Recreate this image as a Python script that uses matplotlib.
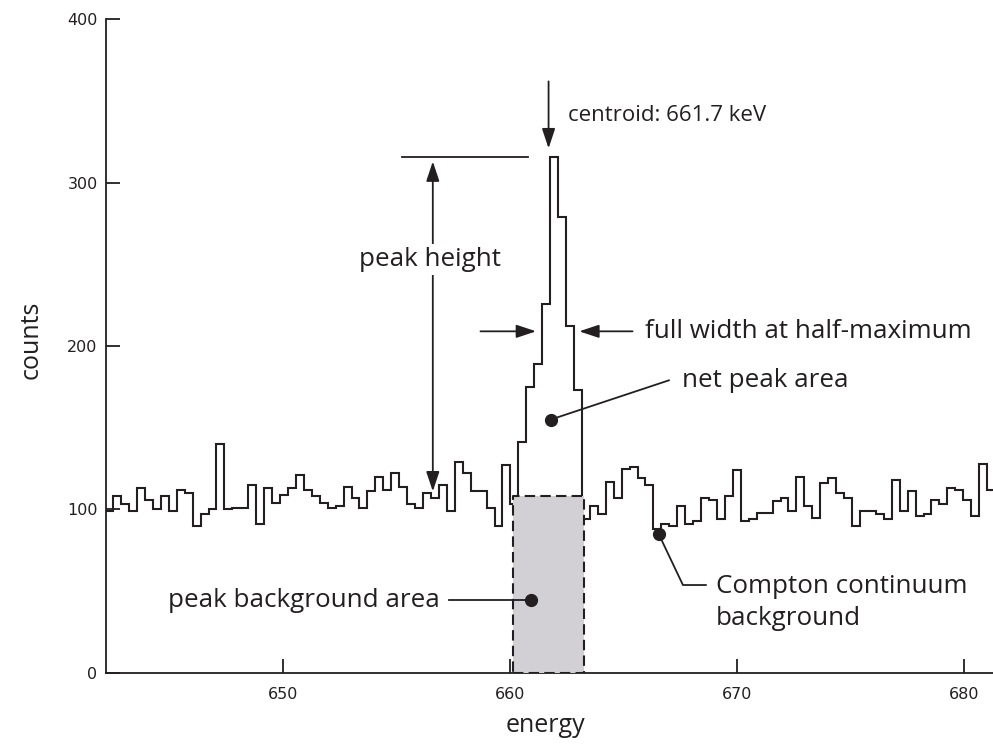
import numpy as np
import matplotlib.pyplot as plt
from matplotlib.patches import Rectangle

# gamma spectrum around the Cs-137 line, 0.35 keV channels
bin_start = 642.17
bin_width = 0.35
counts = [99, 108, 103, 99, 113, 106, 100, 108, 99, 112,
          110, 90, 97, 100, 140, 100, 101, 101, 115, 91,
          113, 104, 109, 113, 121, 112, 108, 104, 101, 102,
          114, 107, 101, 111, 120, 112, 122, 114, 103, 101,
          110, 107, 115, 99, 129, 122, 111, 111, 101, 90,
          127, 103, 141, 175, 189, 226, 316, 279, 212, 173,
          94, 102, 97, 117, 107, 125, 126, 119, 115, 88,
          91, 90, 102, 91, 93, 107, 106, 94, 108, 124,
          93, 94, 98, 98, 105, 107, 99, 120, 102, 95,
          116, 119, 110, 107, 90, 99, 99, 97, 94, 118,
          99, 111, 96, 97, 106, 103, 113, 112, 106, 96,
          128, 112]
edges = bin_start + bin_width * np.arange(len(counts) + 1)

peak_max = 316
centroid = 661.7
bg_left, bg_right, bg_level = 660.12, 663.28, 108
fwhm_y = 209

ink = '#231f20'
label_font = 'Open Sans'

fig, ax = plt.subplots(figsize=(9.93, 7.46), dpi=100)
ax.set_position([0.1067, 0.0982, 0.8933, 0.8759])

ax.stairs(counts, edges, baseline=None, color=ink, linewidth=1.5, zorder=2)

# shaded peak background
ax.add_patch(Rectangle((bg_left, 0), bg_right - bg_left, bg_level,
                       facecolor='#d2d0d4', edgecolor=ink, linewidth=1.5,
                       linestyle=(0, (5, 2.5)), joinstyle='round', zorder=3))

ax.set_xlim(642.2, 681.28)
ax.set_ylim(0, 400)
ax.set_xticks([650, 660, 670, 680])
ax.set_yticks([0, 100, 200, 300, 400])
for side in ['top', 'right']:
    ax.spines[side].set_visible(False)
for side in ['left', 'bottom']:
    ax.spines[side].set_linewidth(1.3)
    ax.spines[side].set_color(ink)
ax.tick_params(direction='in', length=10, width=1.3, color=ink,
               labelsize=11.5, labelcolor=ink)
ax.tick_params(axis='x', pad=10)
ax.tick_params(axis='y', pad=6)

ax.set_xlabel('energy', fontsize=18, family=label_font, color=ink)
ax.set_ylabel('counts', fontsize=18, family=label_font, color=ink)
ax.xaxis.set_label_coords(0.495, -0.062)
ax.yaxis.set_label_coords(-0.07, 0.51)

head = dict(color=ink, lw=1.3, shrinkA=0, shrinkB=0, mutation_scale=20)
txt = dict(fontsize=18.7, family=label_font, color=ink)

# centroid
ax.annotate('', xy=(centroid, 321), xytext=(centroid, 362),
            arrowprops=dict(arrowstyle='-|>,head_length=0.6,head_width=0.2', **head))
ax.text(662.56, 341, 'centroid: 661.7 keV', va='center', ha='left',
        fontsize=16, family=label_font, color=ink)

# peak height
ax.plot([655.24, 660.79], [peak_max, peak_max], color=ink, lw=1.3)
ax.annotate('', xy=(656.6, 111), xytext=(656.6, 313),
            arrowprops=dict(arrowstyle='<|-|>,head_length=0.6,head_width=0.2', **head))
ax.text(656.48, 253, 'peak height', ha='center', va='center', zorder=4,
        bbox=dict(facecolor='white', edgecolor='none', pad=2), **txt)

# full width at half-maximum
ax.annotate('', xy=(661.15, fwhm_y), xytext=(658.7, fwhm_y),
            arrowprops=dict(arrowstyle='-|>,head_length=0.6,head_width=0.2', **head))
ax.annotate('', xy=(663.05, fwhm_y), xytext=(665.4, fwhm_y),
            arrowprops=dict(arrowstyle='-|>,head_length=0.6,head_width=0.2', **head))
ax.text(665.95, fwhm_y, 'full width at half-maximum', va='center', ha='left', **txt)

# net peak area
ax.plot([661.8, 667.0], [155, 179], color=ink, lw=1.3, zorder=4)
ax.plot(661.8, 155, 'o', color=ink, markersize=8.5, zorder=4)
ax.text(667.6, 179, 'net peak area', va='center', ha='left', **txt)

# Compton continuum
ax.plot([666.56, 667.62, 668.63], [84.7, 53.7, 53.7], color=ink, lw=1.3, zorder=4)
ax.plot(666.56, 84.7, 'o', color=ink, markersize=8.5, zorder=4)
ax.text(669.07, 43, 'Compton continuum\nbackground', va='center', ha='left',
        linespacing=1.35, **txt)

# peak background area
ax.plot([657.31, 660.93], [44.5, 44.5], color=ink, lw=1.3, zorder=4)
ax.plot(660.93, 44.5, 'o', color=ink, markersize=8.5, zorder=4)
ax.text(656.92, 44.5, 'peak background area', va='center', ha='right', **txt)

fig.savefig('out.png', dpi=100)
